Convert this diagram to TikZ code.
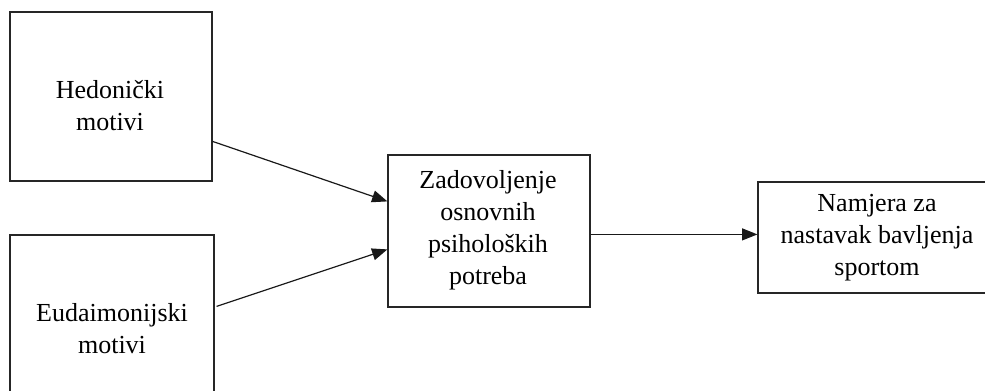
\documentclass[tikz,border=0pt]{standalone}
\usepackage{fontspec}
\setmainfont{Liberation Serif}
\usetikzlibrary{arrows.meta,calc}
\begin{document}
\begin{tikzpicture}[x=0.75pt,y=-0.75pt,
  box/.style={draw=black!85,line width=0.9pt,rectangle,inner sep=0pt},
  txt/.style={align=center,font=\fontsize{19.5}{24}\selectfont,inner sep=0pt},
  arr/.style={draw=black!90,line width=0.9pt,-{Triangle[length=11.5pt,width=9pt]}}]
\useasboundingbox (0,0) rectangle (985,390);
\begin{scope}
\clip (0,0) rectangle (985,390);
\node[box,minimum width=202pt*0.75,minimum height=169pt*0.75] (hed) at (111,96.5) {};
\node[box,minimum width=204pt*0.75,minimum height=170pt*0.75] (eud) at (112,320) {};
\node[box,minimum width=202pt*0.75,minimum height=152pt*0.75] (mid) at (489,231) {};
\node[box,minimum width=240pt*0.75,minimum height=111pt*0.75] (out) at (878,237.5) {};
\end{scope}
\node[txt] (thed) at (110,105.5) {Hedonički\\motivi};
\node[txt] (teud) at (112,329) {Eudaimonijski\\motivi};
\node[txt] (tmid) at (488,230) {Zadovoljenje\\osnovnih\\psiholoških\\potreba};
\node[txt] (tout) at (877,238) {Namjera za\\nastavak bavljenja\\sportom};
\draw[arr] ($(hed.north east)+(0,130)$) -- ($(mid.north west)+(0,47)$);
\draw[arr] ($(eud.north east)+(2,72)$) -- ($(mid.north west)+(0,95)$);
\draw[arr] ($(mid.north east)+(0,80)$) -- ($(out.north west)+(0,53)$);
\end{tikzpicture}
\end{document}
